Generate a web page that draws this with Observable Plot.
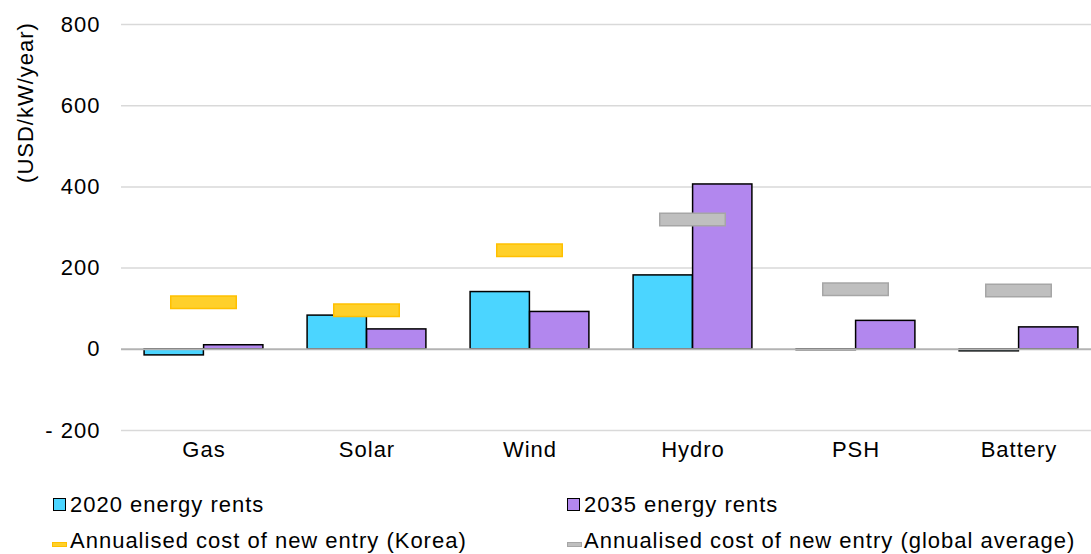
<!DOCTYPE html>
<html><head><meta charset="utf-8">
<script src="https://cdn.jsdelivr.net/npm/d3@7"></script>
<script src="https://cdn.jsdelivr.net/npm/@observablehq/plot@0.6"></script>
<style>
body{margin:0;background:#fff;font-family:"Liberation Sans",Arial,sans-serif;}
#chart svg{display:block;}
.legend{position:relative;width:1091px;height:79px;font-size:22px;line-height:22px;letter-spacing:1px;color:#000;}
.txt{position:absolute;white-space:nowrap;}
.sw{position:absolute;box-sizing:border-box;}
</style></head><body>
<div id="chart"></div>
<div class="legend" id="legend"></div>
<script>
const categories = ["Gas","Solar","Wind","Hydro","PSH","Battery"];
const rents2020 = [-15, 83, 141, 182, -2, -5];
const rents2035 = [10, 49, 92, 406, 70, 54];
const costKorea = [116, 96, 244, null, null, null];
const costGlobal = [null, null, null, 320, 148, 145];
const yTicks = [-200, 0, 200, 400, 600, 800];
const seriesNames = ["2020 energy rents", "2035 energy rents", "Annualised cost of new entry (Korea)", "Annualised cost of new entry (global average)"];
const colors = {c2020:"#4bd5ff", c2035:"#b287ee", korea:"#ffd02a", koreaEdge:"#ffc000", global:"#bfbfbf", globalEdge:"#a6a6a6"};

const toRows = (vals) => categories.map((c,i)=>({cat:c, v:vals[i]})).filter(d=>d.v!=null);
const d2020 = toRows(rents2020), d2035 = toRows(rents2035), dKorea = toRows(costKorea), dGlobal = toRows(costGlobal);

const chart = Plot.plot({
  width: 1091, height: 475,
  marginLeft: 121, marginRight: 0, marginTop: 24, marginBottom: 45,
  style: {fontSize: "22px", fontFamily: "'Liberation Sans', Arial, sans-serif", letterSpacing: "1px", background: "#fff", overflow: "visible"},
  x: {type: "band", domain: categories, range: [121.4, 1100.6], padding: 0},
  y: {domain: [-200, 800], range: [430, 24]},
  marks: [
    Plot.gridY(yTicks.filter(d=>d!==0), {stroke:"#d9d9d9", strokeOpacity:1, strokeWidth:1.5}),
    Plot.axisY({ticks: yTicks, tickSize: 0, tickPadding: 21, label: null,
      tickFormat: d => d < 0 ? "- " + Math.abs(d) : String(d)}),
    Plot.axisX({tickSize: 0, tickPadding: 11, label: null}),
    Plot.barY(d2020, {x:"cat", y:"v", fill:colors.c2020, stroke:"#000", strokeWidth:1.5, insetLeft:22.1, insetRight:81.6}),
    Plot.barY(d2035, {x:"cat", y:"v", fill:colors.c2035, stroke:"#000", strokeWidth:1.5, insetLeft:81.6, insetRight:22.1}),
    Plot.ruleY([0], {stroke:"#b3b3b3", strokeWidth:2}),
    Plot.tickY(dKorea, {x:"cat", y:"v", stroke:colors.koreaEdge, strokeWidth:14, insetLeft:48, insetRight:48}),
    Plot.tickY(dKorea, {x:"cat", y:"v", stroke:colors.korea, strokeWidth:11, insetLeft:49.5, insetRight:49.5}),
    Plot.tickY(dGlobal, {x:"cat", y:"v", stroke:colors.globalEdge, strokeWidth:14, insetLeft:48, insetRight:48}),
    Plot.tickY(dGlobal, {x:"cat", y:"v", stroke:colors.global, strokeWidth:11, insetLeft:49.5, insetRight:49.5}),
    Plot.text(["(USD/kW/year)"], {text: d=>d, frameAnchor:"top-left", dx:-96, dy:78, rotate:-90, textAnchor:"middle", lineAnchor:"middle", fill:"#000"})
  ]
});
document.getElementById("chart").append(chart);

const legend = document.getElementById("legend");
const items = [
  {name: seriesNames[0], kind:"box", color:colors.c2020, x:53, tx:70, cy:29.5},
  {name: seriesNames[1], kind:"box", color:colors.c2035, x:567, tx:584, cy:29.5},
  {name: seriesNames[2], kind:"dash", color:colors.korea, edge:colors.koreaEdge, x:52, tx:70, cy:66},
  {name: seriesNames[3], kind:"dash", color:colors.global, edge:colors.globalEdge, x:567, tx:584, cy:66}
];
for (const it of items) {
  const sw = document.createElement("div");
  sw.className = "sw";
  if (it.kind === "box") {
    Object.assign(sw.style, {left: it.x+"px", top: (it.cy-6.5)+"px", width:"13px", height:"13px", background: it.color, border:"1.5px solid #000"});
  } else {
    Object.assign(sw.style, {left: it.x+"px", top: (it.cy+0.5)+"px", width:"15px", height:"5px", background: it.color, border:"1px solid "+it.edge});
  }
  legend.append(sw);
  const t = document.createElement("div");
  t.className = "txt";
  t.textContent = it.name;
  Object.assign(t.style, {left: it.tx+"px", top: (it.cy-11)+"px"});
  legend.append(t);
}
</script>
</body></html>
